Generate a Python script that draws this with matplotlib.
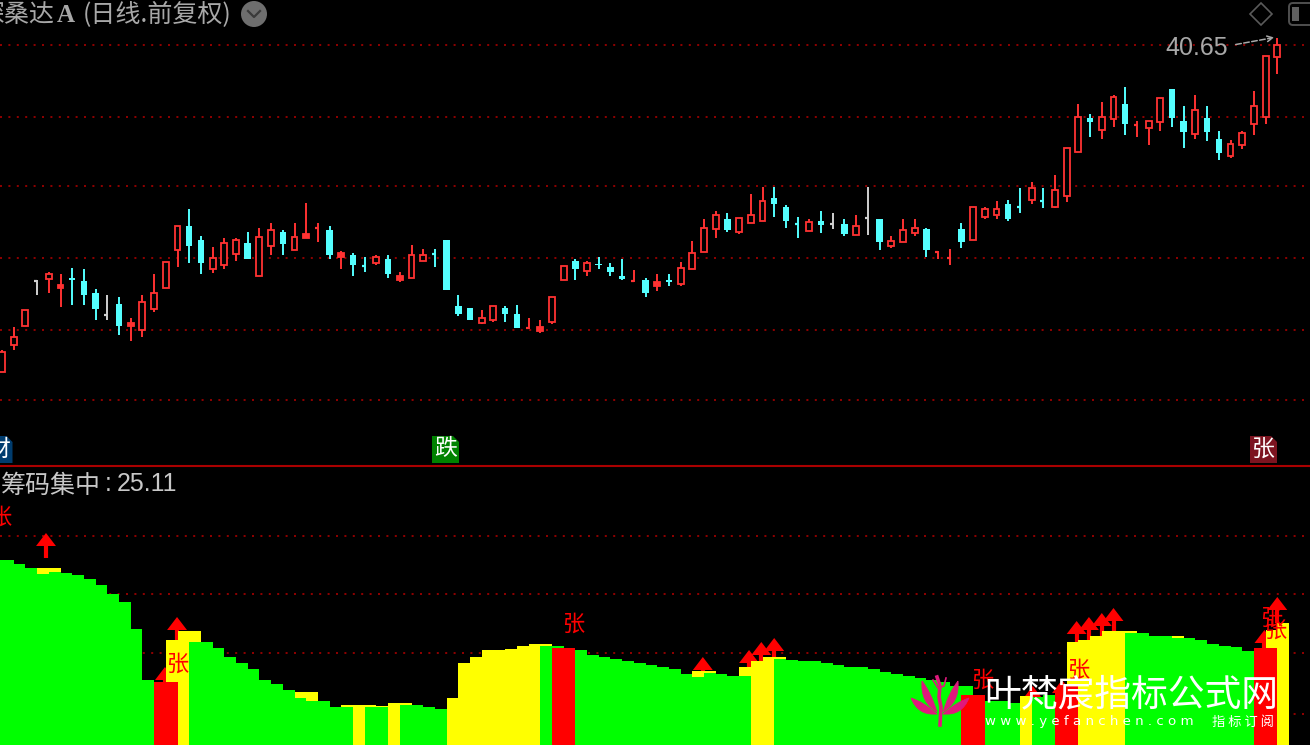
import numpy as np
import matplotlib
matplotlib.use("Agg")
import matplotlib.pyplot as plt
from matplotlib.patches import Circle, Polygon, FancyBboxPatch, PathPatch, Rectangle
from matplotlib.path import Path

plt.rcParams['font.family'] = ['Noto Sans CJK SC', 'DejaVu Sans']

# price panel, in chart units
candle_kind = ("rrrwrrcccw" "crrrrrccrr" "rcrrcrrrcr" "ccrcrrrccc" "crrccrrrrc"
               "rcccrcrcrr" "rrcrrrcccr" "cwcrwcrrrc" "rrcrrrccrc" "rrrcrrcrrr" "ccrccrrrrr")
body_top = [116, 131, 158, 187, 194, 183, 190, 187, 175, 153, 164, 145, 166, 175, 206, 242, 242, 228,
            210, 225, 228, 225, 231, 238, 236, 231, 234, 240, 238, 215, 213, 202, 211, 209, 192, 213,
            213, 214, 228, 162, 160, 150, 162, 160, 154, 140, 141, 171, 202, 207, 205, 204, 201, 192,
            187, 188, 186, 188, 200, 215, 240, 253, 249, 250, 253, 267, 270, 261, 244, 246, 247, 244,
            244, 242, 250, 249, 227, 238, 240, 239, 216, 210, 239, 261, 259, 259, 264, 261, 280, 267,
            278, 320, 351, 350, 351, 371, 364, 343, 347, 370, 379, 347, 358, 350, 329, 324, 335, 362,
            412, 423]
body_bot = [96, 123, 142, 187, 189, 180, 188, 173, 159, 153, 142, 142, 138, 159, 180, 218, 222, 205,
            199, 203, 214, 209, 192, 222, 224, 218, 230, 240, 213, 211, 203, 202, 205, 194, 188, 190,
            207, 214, 178, 154, 148, 145, 148, 154, 140, 140, 137, 146, 188, 199, 197, 203, 196, 189,
            187, 175, 182, 186, 184, 199, 216, 239, 238, 236, 245, 247, 264, 247, 244, 237, 243, 244,
            234, 233, 250, 226, 222, 226, 235, 218, 216, 210, 226, 228, 251, 253, 249, 261, 268, 267,
            261, 272, 316, 346, 338, 349, 344, 343, 340, 346, 350, 336, 334, 336, 315, 312, 323, 344,
            351, 411]
high = [118, 141, 158, 188, 196, 194, 200, 199, 179, 173, 171, 150, 173, 194, 206, 242, 259, 232,
        221, 230, 230, 236, 240, 245, 238, 245, 265, 245, 242, 217, 215, 211, 213, 213, 196, 223,
        219, 219, 228, 173, 160, 158, 162, 162, 163, 150, 148, 171, 202, 209, 207, 211, 205, 209,
        198, 190, 194, 194, 206, 227, 249, 257, 255, 250, 274, 281, 281, 263, 251, 249, 257, 255,
        249, 253, 281, 249, 232, 249, 249, 240, 217, 219, 245, 261, 261, 267, 268, 280, 286, 280,
        293, 320, 364, 354, 366, 373, 381, 347, 347, 370, 379, 362, 373, 362, 337, 328, 337, 377,
        412, 430]
low = [96, 118, 142, 173, 175, 161, 163, 163, 148, 148, 133, 127, 131, 156, 180, 201, 205, 194,
       195, 199, 207, 209, 192, 213, 213, 218, 230, 226, 209, 199, 192, 196, 203, 190, 186, 190,
       207, 201, 178, 152, 148, 144, 146, 146, 140, 139, 135, 144, 188, 188, 192, 199, 192, 188,
       186, 171, 177, 182, 182, 199, 216, 230, 236, 234, 245, 247, 251, 240, 230, 237, 235, 239,
       232, 233, 233, 218, 220, 226, 232, 211, 209, 203, 220, 228, 249, 249, 247, 255, 264, 260,
       260, 266, 316, 331, 329, 341, 333, 331, 323, 337, 341, 320, 329, 327, 308, 310, 319, 333,
       344, 394]
price_grid = [423, 351, 282, 210, 138, 68]

# indicator panel, bars start at index -1
yellow = [0, 0, 0, 0, 177, 177, 0, 0, 0, 0, 0, 0, 0, 0, 0, 105, 114, 114, 0, 0, 0, 0, 0, 0, 0, 0,
          53, 53, 0, 0, 40, 40, 40, 39, 42, 42, 0, 0, 0, 47, 82, 88, 95, 95, 96, 99, 101, 101, 0, 0,
          0, 0, 0, 0, 0, 0, 0, 0, 0, 0, 74, 74, 0, 0, 78, 84, 88, 88, 0, 0, 0, 0, 0, 0, 0, 0, 0, 0,
          0, 0, 0, 0, 0, 0, 0, 0, 0, 0, 49, 0, 0, 0, 103, 105, 109, 114, 114, 114, 0, 0, 0, 109, 0,
          0, 0, 0, 0, 0, 0, 115, 122]
green = [185, 185, 181, 177, 171, 173, 172, 170, 166, 160, 151, 143, 116, 65, 0, 0, 0, 103, 103, 97,
         88, 82, 76, 65, 61, 55, 47, 44, 44, 38, 38, 0, 38, 38, 0, 40, 40, 38, 36, 0, 0, 0, 0, 0, 0,
         0, 0, 99, 99, 0, 95, 90, 88, 86, 84, 82, 80, 78, 76, 71, 68, 72, 71, 69, 69, 0, 0, 86, 85,
         84, 84, 82, 80, 78, 78, 76, 73, 71, 69, 67, 65, 63, 59, 59, 0, 44, 44, 42, 0, 48, 50, 0, 0,
         0, 0, 0, 0, 112, 112, 109, 109, 107, 107, 105, 101, 99, 98, 94, 0, 0, 0]
red = [0, 0, 0, 0, 0, 0, 0, 0, 0, 0, 0, 0, 0, 0, 63, 63, 0, 0, 0, 0, 0, 0, 0, 0, 0, 0, 0, 0, 0, 0,
       0, 0, 0, 0, 0, 0, 0, 0, 0, 0, 0, 0, 0, 0, 0, 0, 0, 0, 97, 97, 0, 0, 0, 0, 0, 0, 0, 0, 0, 0,
       0, 0, 0, 0, 0, 0, 0, 0, 0, 0, 0, 0, 0, 0, 0, 0, 0, 0, 0, 0, 0, 0, 0, 50, 50, 0, 0, 0, 0, 0,
       0, 52, 60, 0, 0, 0, 0, 0, 0, 0, 0, 0, 0, 0, 0, 0, 0, 0, 97, 97, 0]
arrow_idx = [3.76, 14.96, 13.93, 59.9, 63.85, 64.9, 66.0, 91.85, 92.9, 94.0, 95.0, 109.0, 107.9, 90.6, 88.1]
arrow_tip = [212, 128, 78, 88, 95, 103, 107, 124, 128, 132, 137, 148, 115, 65, 59]
arrow_end = [187, 105, 63, 74, 78, 84, 88, 103, 105, 109, 114, 122, 97, 52, 48]
zhang_idx = [-0.17, 14.96, 48.8, 83.8, 92.0, 108.8, 108.5]
zhang_val = [228, 81, 121, 65, 75, 115, 127]
ind_grid = [209, 151, 92, 31]

W, H = 1310, 749
STEP = 11.7   # pixels per bar
FONT = ['Noto Sans CJK SC', 'DejaVu Sans']
GRID = '#8c0000'

fig = plt.figure(figsize=(W / 100, H / 100), dpi=100, facecolor='white')
ax1 = fig.add_axes([0, (H - 466) / H, 1, 466 / H], facecolor='black')
ax2 = fig.add_axes([0, 4 / H, 1, 278 / H], facecolor='black')
over = fig.add_axes([0, 0, 1, 1], facecolor='none')

for ax in (ax1, ax2):
    ax.set_xlim(-2 / STEP, (W - 2) / STEP)
    ax.set_xticks([])
    ax.set_yticks([])
    for s in ax.spines.values():
        s.set_visible(False)
ax1.set_ylim(2, 468)
ax2.set_ylim(0, 278)
over.set_xlim(0, W)
over.set_ylim(H, 0)
over.axis('off')

# top panel
ax1.hlines(price_grid, *ax1.get_xlim(), colors=GRID, lw=1.44, linestyles=(0, (1, 3.2)), zorder=1)
colors = {'r': '#ff3232', 'c': '#54ffff', 'w': '#d0d0d0'}
for i, k in enumerate(candle_kind):
    c = colors[k]
    ax1.vlines(i, low[i], high[i], colors=c, lw=1.4, zorder=2)
    h = body_top[i] - body_bot[i]
    if h == 0:
        ax1.hlines(body_top[i], i - 0.25, i, colors=c, lw=1.6, zorder=2)
    elif k == 'r':
        ax1.bar(i, h, bottom=body_bot[i], width=0.5, facecolor='black' if h > 4 else c,
                edgecolor=c, lw=1.3, zorder=3)
    else:
        ax1.bar(i, h, bottom=body_bot[i], width=0.56, color=c, lw=0, zorder=3)

# bottom panel
xs = np.arange(-1, 110)
ax2.hlines(ind_grid, *ax2.get_xlim(), colors=GRID, lw=1.44, linestyles=(0, (1, 3.2)), zorder=1)
for i in range(len(arrow_idx)):
    x, tip, end = arrow_idx[i], arrow_tip[i], arrow_end[i]
    ax2.fill([x - 0.85, x, x + 0.85], [tip - 13, tip, tip - 13], color='#ff0000', lw=0, zorder=1.5)
    ax2.vlines(x, end, tip - 13, colors='#ff0000', lw=3, zorder=1.5)
ax2.bar(xs, yellow, width=1, align='edge', color='#ffff00', lw=0, zorder=2)
ax2.bar(xs, green, width=1, align='edge', color='#00ff00', lw=0, zorder=3)
ax2.bar(xs, red, width=1, align='edge', color='#ff0000', lw=0, zorder=4)
for x, v in zip(zhang_idx, zhang_val):
    ax2.text(x, v, '张', color='#ff0000', fontsize=16, family=FONT, ha='center', va='center', zorder=5)

# divider
over.hlines(466, 0, W, colors='#aa0000', lw=1.5)

# title row
over.text(-21, 15, '深桑达', color='#a8a8a8', fontsize=18, family=FONT, va='center')
over.text(57, 15, 'A', color='#a8a8a8', fontsize=18, family='Liberation Serif', weight='bold', va='center')
over.text(83, 15, '(日线.前复权)', color='#a8a8a8', fontsize=18, family=FONT, va='center')
over.add_patch(Circle((254, 14), 13, color='#6e6e6e', lw=0))
over.plot([248, 254, 260], [11, 17, 11], color='#3a3a3a', lw=1.6)
over.add_patch(Polygon([(1261, 3), (1272, 14), (1261, 25), (1250, 14)], fill=False, ec='#5a5a5a', lw=1.2))
over.add_patch(FancyBboxPatch((1291, 5), 30, 18, boxstyle='round,pad=2,rounding_size=4', fill=False, ec='#505050', lw=1.4))
over.add_patch(Rectangle((1292, 7), 7, 14, color='#606060', lw=0))

# last price label
over.text(1165, 48, '40.65', color='#a8a8a8', fontsize=18, family='Liberation Sans', va='center')
over.annotate('', xy=(1277, 37), xytext=(1233, 45),
              arrowprops=dict(arrowstyle='->', color='#a8a8a8', lw=1.1, linestyle='--'))

# flags above the divider
def flag(x0, x1, bg, txt, tx):
    pts = [(x0, 436), (x1 - 6, 436), (x1, 442), (x1, 463), (x0, 463)]
    over.add_patch(Polygon(pts, color=bg, lw=0))
    over.text(tx, 449, txt, color='white', fontsize=16.5, family=FONT, ha='center', va='center')

flag(-4, 12.5, '#003c6e', '财', -1)
flag(432, 459, '#008200', '跌', 445.5)
flag(1250, 1277, '#7c1420', '张', 1263.5)

# indicator title
over.text(1, 486, '筹码集中', color='#c8c8c8', fontsize=18, family=FONT, va='center')
over.text(105, 484, ':', color='#c8c8c8', fontsize=18, family='Liberation Sans', va='center')
over.text(117, 484, '25.11', color='#c8c8c8', fontsize=18, family='Liberation Sans', va='center')

# watermark
pink = '#e0197d'
C3 = Path.CURVE3
def petal(tip, c1, end, c2):
    return Path([tip, c1, end, c2, tip], [Path.MOVETO, C3, C3, C3, C3])

for sgn in (-1, 1):
    over.add_patch(PathPatch(petal((940 + sgn * 29, 698), (940 + sgn * 22, 716),
                                   (940 + sgn * 3, 714), (940 + sgn * 16, 702)), fc=pink, ec=pink, lw=0.5))
    over.add_patch(PathPatch(petal((940 + sgn * 18, 681), (940 + sgn * 20, 702),
                                   (940 + sgn * 3, 712), (940 + sgn * 9, 692)), fc=pink, ec=pink, lw=0.5))
over.plot([937, 940, 939, 941, 940], [677, 686, 697, 707, 725], color=pink, lw=2.6)
over.plot([933, 938, 944, 946], [680, 688, 686, 678], color=pink, lw=1.2)

over.text(984, 695, '叶梵宸指标公式网', color='white', fontsize=26.5, family=FONT, va='center')
over.text(985, 722, 'w w w . y e f a n c h e n . c o m', color='white', fontsize=9.6, family='DejaVu Sans', va='center')
over.text(1212, 722, '指 标 订 阅', color='white', fontsize=9.5, family=FONT, va='center')

fig.savefig('out.png', dpi=100, facecolor='white')
